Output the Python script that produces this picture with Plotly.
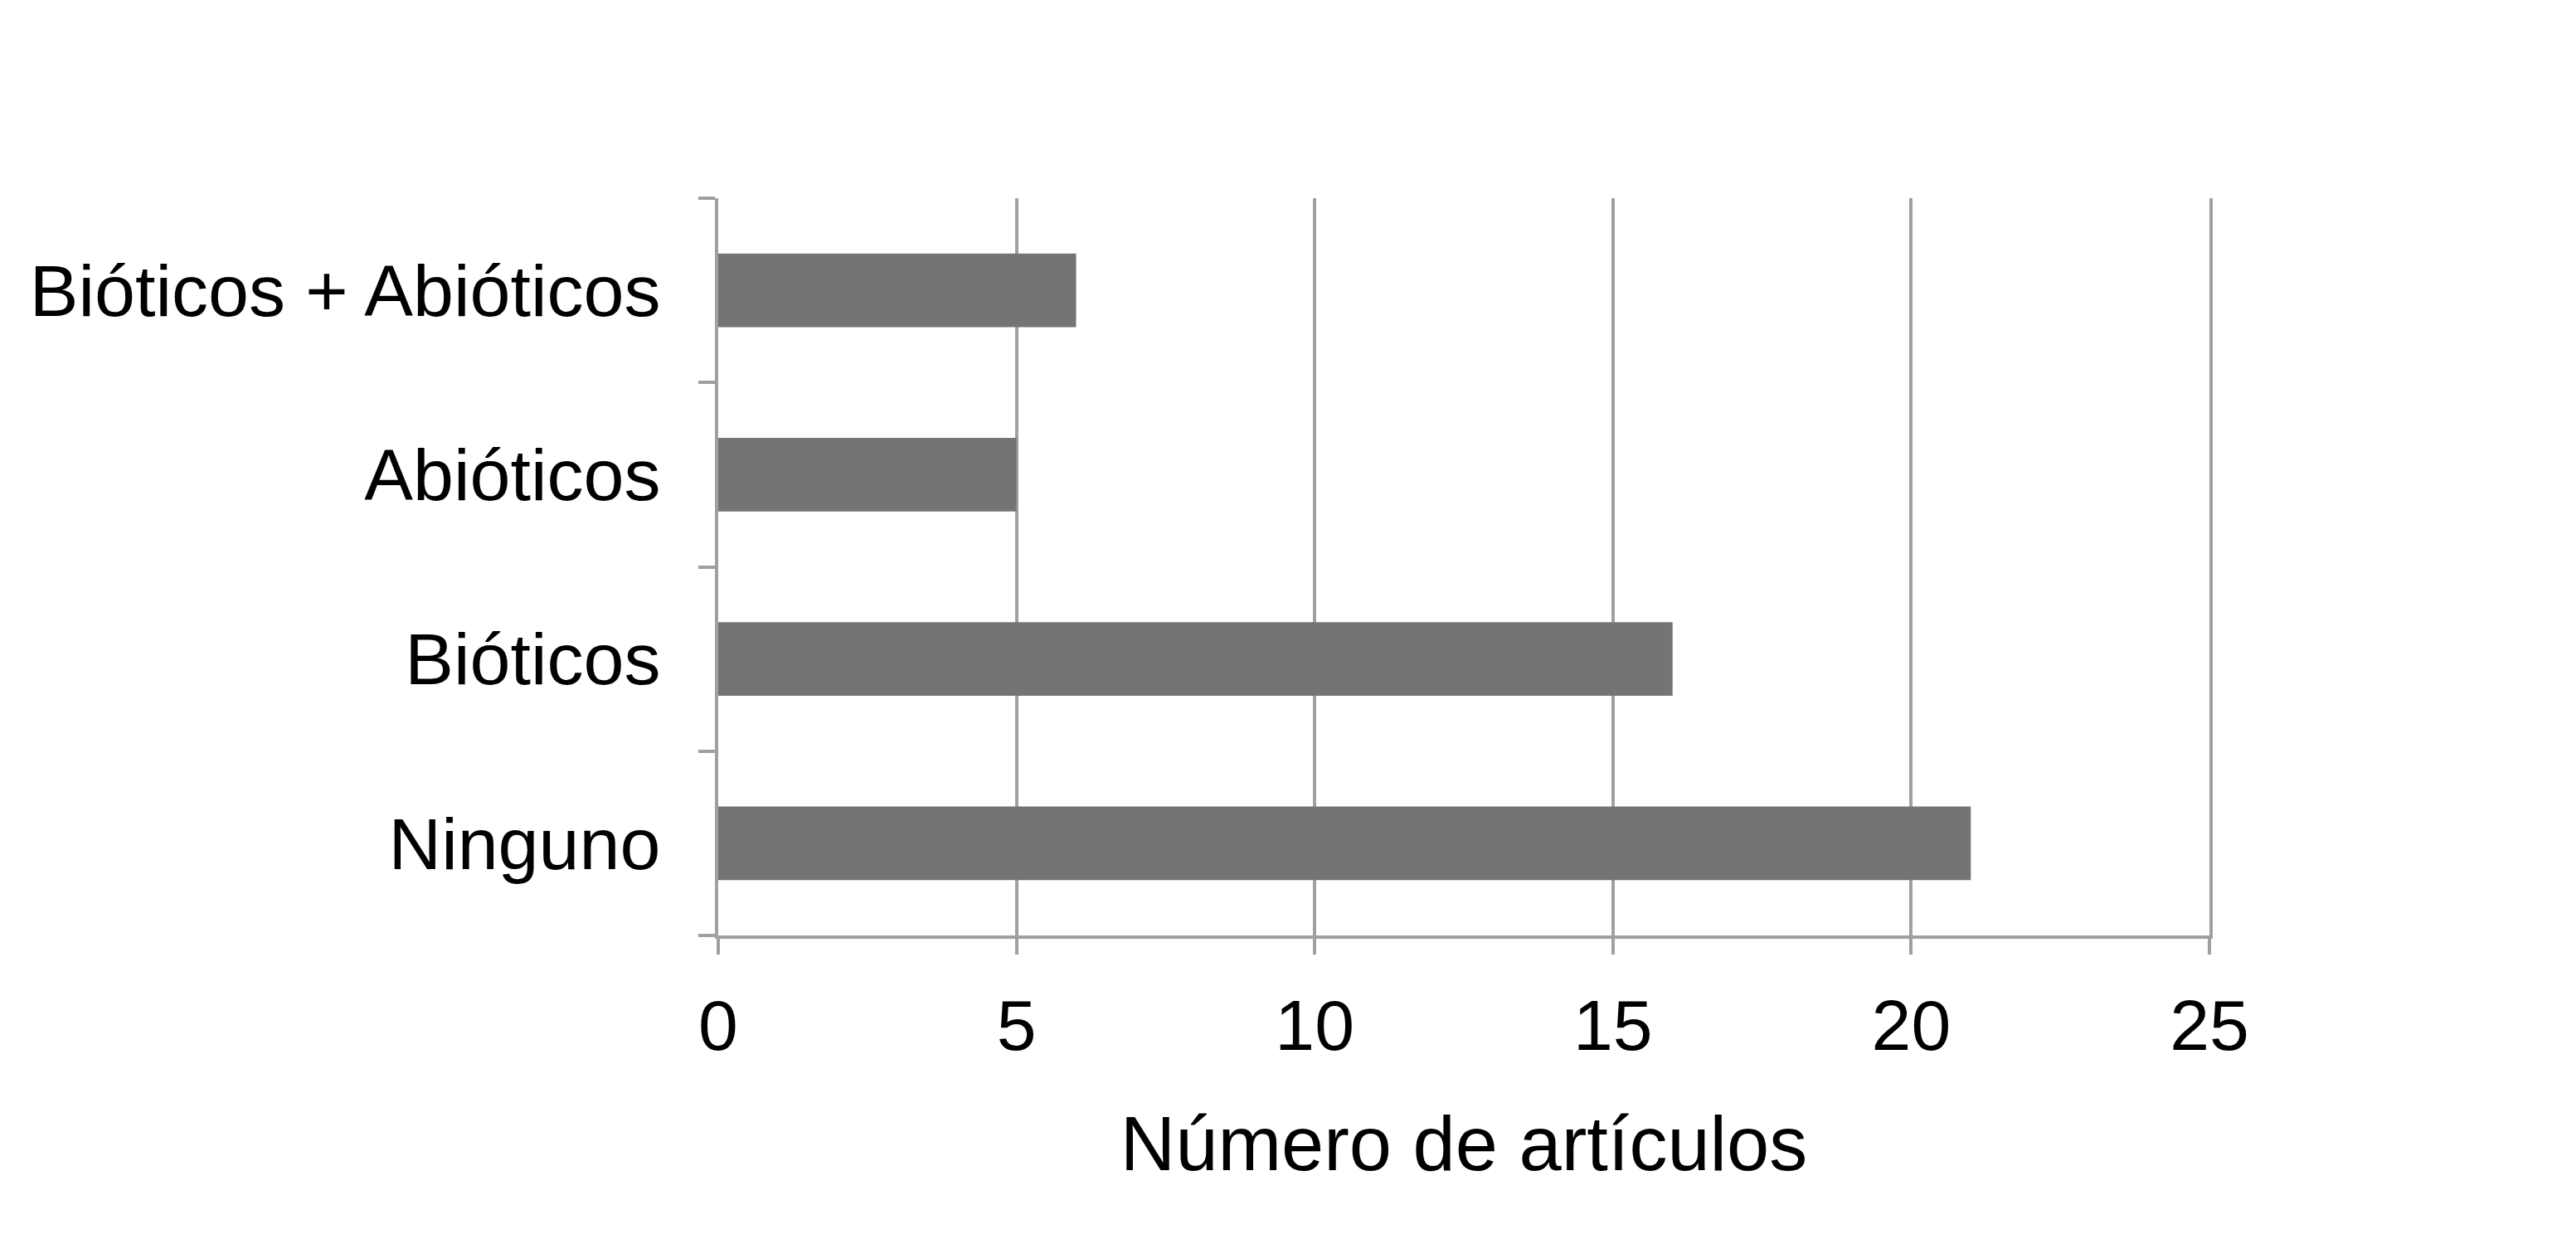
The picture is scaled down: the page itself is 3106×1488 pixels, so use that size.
import plotly.graph_objects as go

categories = ["Ninguno", "Bióticos", "Abióticos", "Bióticos + Abióticos"]
values = [21, 16, 5, 6]
x_ticks = [0, 5, 10, 15, 20, 25]
x_title = "Número de artículos"

W, H = 3106, 1488
OFF = 8  # browser body margin
FONT = "Liberation Sans, Arial, sans-serif"
GRID = "#a0a0a0"
BAR = "#747474"

fig = go.Figure(go.Bar(
    y=categories, x=values, orientation="h",
    marker=dict(color=BAR, line=dict(width=0)),
    width=0.4,
))

fig.update_layout(
    width=W, height=H,
    margin=dict(l=866 - OFF, r=W - 2664 + OFF, t=239 - OFF, b=H - 1128 + OFF, pad=0),
    paper_bgcolor="white", plot_bgcolor="white",
    showlegend=False,
    font=dict(family=FONT, color="black", size=88),
    bargap=0.6,
)

fig.update_xaxes(
    range=[0, 25], tickvals=x_ticks, ticktext=[str(v) for v in x_ticks],
    showgrid=True, gridcolor=GRID, gridwidth=4,
    zeroline=False,
    showline=True, linecolor=GRID, linewidth=4,
    ticks="outside", ticklen=19, tickwidth=4, tickcolor=GRID,
    tickfont=dict(size=86, family=FONT, color="black"),
    ticklabelstandoff=12,
    title=dict(text=x_title, font=dict(size=92, family=FONT, color="black"), standoff=64),
)

fig.update_yaxes(
    categoryorder="array", categoryarray=categories,
    showgrid=False, zeroline=False,
    showline=True, linecolor=GRID, linewidth=4, mirror=True,
    ticks="outside", ticklen=20, tickwidth=4, tickcolor=GRID,
    tickson="boundaries",
    tickfont=dict(size=88, family=FONT, color="black"),
    ticklabelstandoff=48,
)

fig.write_html("out.html")
